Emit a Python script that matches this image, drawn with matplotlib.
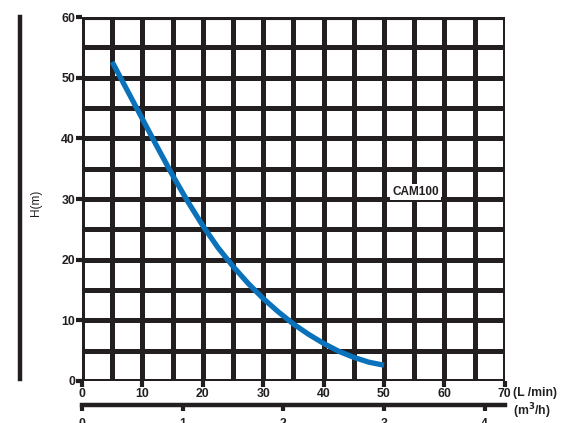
import numpy as np
import matplotlib.pyplot as plt
from matplotlib.lines import Line2D

# -------------------------------------------------------------
# Data
# -------------------------------------------------------------
flow_lpm = [5, 7.5, 10, 12.5, 15, 17.5, 20, 22.5, 25, 27.5,
            30, 32.5, 35, 37.5, 40, 42.5, 45, 47.5, 50]
head_m = [52.6, 47.9, 43.2, 38.5, 33.9, 29.6, 25.6, 22.0, 18.9, 16.1,
          13.6, 11.4, 9.4, 7.7, 6.2, 4.9, 3.9, 3.1, 2.6]
x_ticks = [0, 10, 20, 30, 40, 50, 60, 70]
y_ticks = [0, 10, 20, 30, 40, 50, 60]
m3h_ticks = [0, 1, 2, 3, 4]
model_name = "CAM100"

ink = "#231f20"
blue = "#0a72bb"

plt.rcParams['font.family'] = ['Liberation Sans', 'DejaVu Sans']
plt.rcParams['font.weight'] = 'bold'

fig = plt.figure(figsize=(5.71, 4.23), dpi=100)
ax = fig.add_axes([0.1436, 0.0993, 0.7404, 0.8605])

# grid every 5 units
for v in np.arange(0, 71, 5):
    ax.axvline(v, color=ink, lw=3.6, zorder=1, solid_capstyle='butt')
for v in np.arange(0, 61, 5):
    ax.axhline(v, color=ink, lw=3.6, zorder=1, solid_capstyle='butt')
ax.axhline(60, color=ink, lw=4.4, zorder=1)

ax.plot(flow_lpm, head_m, color=blue, lw=3.8, zorder=3,
        solid_capstyle='butt', solid_joinstyle='round')

ax.set_xlim(0, 70)
ax.set_ylim(0, 60)
ax.set_xticks(x_ticks)
ax.set_yticks(y_ticks)
for s in ax.spines.values():
    s.set_visible(False)
ax.tick_params(axis='both', length=4, width=3, color=ink, labelsize=8.8,
               labelcolor=ink, pad=1)

ax.text(55.2, 31.2, model_name, ha='center', va='center', fontsize=8.5,
        fontweight='bold', color=ink, zorder=4,
        bbox=dict(facecolor='white', edgecolor='none', pad=1.5))

ax.set_ylabel("H(m)", fontsize=8.5, color=ink)
ax.yaxis.set_label_coords(-0.095, 0.49)
ax.text(1.02, -0.034, "(L /min)", transform=ax.transAxes, fontsize=8.8,
        color=ink, va='center', ha='left')

# secondary m3/h axis
sec = ax.secondary_xaxis(-0.066, functions=(lambda q: q * 0.06, lambda q: q / 0.06))
sec.set_xticks(m3h_ticks)
sec.spines['bottom'].set_linewidth(3.2)
sec.spines['bottom'].set_color(ink)
sec.tick_params(length=4, width=3, color=ink, labelsize=8.8, labelcolor=ink, pad=5)
ax.text(1.02, -0.082, "(m$^3$/h)", transform=ax.transAxes, fontsize=8.8,
        color=ink, va='center', ha='left')

# vertical bar at the left of the figure
fig.add_artist(Line2D([20 / 571, 20 / 571], [1 - 17 / 423, 1 - 379 / 423],
                      color=ink, lw=3.2))

fig.savefig("out.png", dpi=100)
